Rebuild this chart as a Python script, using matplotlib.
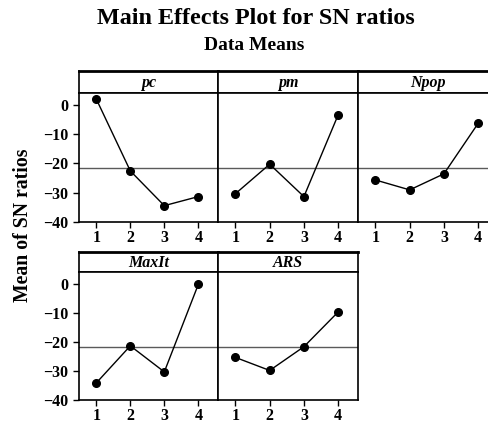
import matplotlib
matplotlib.use('Agg')
import matplotlib.pyplot as plt

# Data
levels = [1, 2, 3, 4]
pc = [2.0, -22.6, -34.5, -31.4]
pm = [-30.4, -20.3, -31.4, -3.4]
npop = [-25.7, -29.1, -23.6, -6.3]
maxit = [-34.2, -21.4, -30.4, -0.2]
ars = [-25.4, -29.9, -21.7, -9.7]
mean_sn = -21.7
yticks = [0, -10, -20, -30, -40]

plt.rcParams['font.family'] = ['Liberation Serif', 'DejaVu Serif']
plt.rcParams['font.weight'] = 'bold'

W, H = 488, 426
fig = plt.figure(figsize=(W / 100, H / 100), dpi=100)


# axes from pixel box
def box(x0, y0, x1, y1):
    return fig.add_axes([x0 / W, 1 - y1 / H, (x1 - x0) / W, (y1 - y0) / H])


col_x = [79, 218, 358, 498]
rows = [(71, 93, 222), (252, 272, 400)]
panels = [
    ('pc', pc, 0, 0),
    ('pm', pm, 0, 1),
    ('Npop', npop, 0, 2),
    ('MaxIt', maxit, 1, 0),
    ('ARS', ars, 1, 1),
]

for name, vals, r, c in panels:
    top, mid, bot = rows[r]
    x0, x1 = col_x[c], col_x[c + 1]

    strip = box(x0, top, x1, mid)
    strip.set_xticks([])
    strip.set_yticks([])
    for s in strip.spines.values():
        s.set_linewidth(1.2)
    strip.spines['top'].set_linewidth(2)
    strip.text(0.5, 0.45, name, transform=strip.transAxes, ha='center', va='center',
               fontsize=11.5, style='italic', weight='bold')

    ax = box(x0, mid, x1, bot)
    ax.axhline(mean_sn, color='#5a5a5a', lw=1)
    ax.plot(levels, vals, color='black', lw=1, marker='o', ms=5.5)
    ax.set_xlim(0.49, 4.58)
    ax.set_ylim(-40.1, 4.1)
    ax.set_xticks(levels)
    ax.set_yticks(yticks)
    ax.tick_params(direction='out', length=4, width=1, labelsize=11.5)
    ax.tick_params(axis='x', pad=2)
    if c > 0:
        ax.tick_params(left=False, labelleft=False)
    for s in ax.spines.values():
        s.set_linewidth(1.2)

fig.text(256 / W, 1 - 19 / H, 'Main Effects Plot for SN ratios', ha='center', va='center',
         fontsize=17.4, weight='bold')
fig.text(254 / W, 1 - 45 / H, 'Data Means', ha='center', va='center',
         fontsize=14, weight='bold')
fig.text(23 / W, 1 - 225 / H, 'Mean of SN ratios', ha='center', va='center',
         rotation=90, fontsize=14.2, weight='bold')

plt.savefig('out.png', dpi=100)
